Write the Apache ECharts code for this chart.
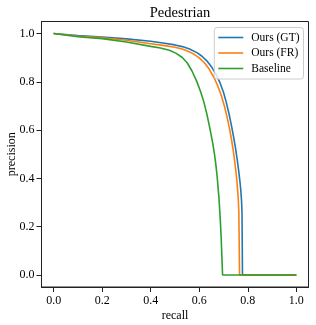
<!DOCTYPE html>
<html>
<head>
<meta charset="utf-8">
<script src="https://cdn.jsdelivr.net/npm/echarts@6/dist/echarts.min.js"></script>
<style>html,body{margin:0;padding:0;background:#fff}#c{width:316px;height:325px}</style>
</head>
<body>
<div id="c"></div>
<script>
const seriesNames = ['Ours (GT)', 'Ours (FR)', 'Baseline'];
const tickValues = [0, 0.2, 0.4, 0.6, 0.8, 1.0];

const gtRecall = [0, 0.005, 0.1, 0.2, 0.3, 0.4, 0.45, 0.5, 0.53, 0.56, 0.59, 0.61, 0.63, 0.65, 0.67, 0.685, 0.70, 0.711, 0.722, 0.732, 0.741, 0.749, 0.756, 0.762, 0.767, 0.771, 0.774, 0.776, 0.778, 1.0];
const gtPrec   = [1.0, 0.996, 0.992, 0.986, 0.978, 0.968, 0.961, 0.953, 0.946, 0.936, 0.921, 0.907, 0.888, 0.863, 0.830, 0.797, 0.756, 0.716, 0.670, 0.622, 0.574, 0.527, 0.480, 0.434, 0.392, 0.352, 0.31, 0.26, 0, 0];

const frRecall = [0, 0.005, 0.1, 0.2, 0.3, 0.4, 0.45, 0.5, 0.533, 0.56, 0.58, 0.60, 0.62, 0.64, 0.66, 0.677, 0.691, 0.704, 0.715, 0.725, 0.733, 0.740, 0.746, 0.751, 0.755, 0.758, 0.761, 0.763, 0.766, 1.0];
const frPrec   = [1.0, 0.995, 0.989, 0.983, 0.972, 0.958, 0.951, 0.943, 0.935, 0.924, 0.913, 0.899, 0.880, 0.854, 0.819, 0.781, 0.742, 0.698, 0.652, 0.604, 0.560, 0.515, 0.470, 0.428, 0.390, 0.352, 0.31, 0.26, 0, 0];

const blRecall = [0, 0.005, 0.1, 0.2, 0.3, 0.4, 0.44, 0.477, 0.505, 0.53, 0.55, 0.57, 0.59, 0.606, 0.619, 0.630, 0.639, 0.647, 0.655, 0.662, 0.668, 0.673, 0.677, 0.681, 0.684, 0.687, 0.690, 0.693, 0.696, 1.0];
const blPrec   = [1.0, 0.994, 0.987, 0.979, 0.965, 0.947, 0.940, 0.931, 0.918, 0.901, 0.879, 0.845, 0.801, 0.758, 0.716, 0.672, 0.630, 0.590, 0.548, 0.505, 0.460, 0.414, 0.368, 0.320, 0.272, 0.22, 0.16, 0.08, 0, 0];

const colors = ['#1f77b4', '#ff7f0e', '#2ca02c'];
const font = "'Liberation Serif', 'Times New Roman', serif";

function pairs(xs, ys) { return xs.map((x, i) => [x, ys[i]]); }
const allData = [pairs(gtRecall, gtPrec), pairs(frRecall, frPrec), pairs(blRecall, blPrec)];

const chart = echarts.init(document.getElementById('c'), null, {renderer: 'canvas'});
const axisCommon = {
  type: 'value', min: -0.05, max: 1.05,
  axisLine: {show: true, onZero: false, lineStyle: {color: '#222', width: 1}},
  axisTick: {show: true, inside: false, length: 5, lineStyle: {color: '#222', width: 1}, customValues: tickValues},
  axisLabel: {show: true, color: '#000', fontFamily: font, fontSize: 12, customValues: tickValues, formatter: v => v.toFixed(1)},
  splitLine: {show: false},
  nameLocation: 'middle',
  nameMoveOverlap: false,
  nameTextStyle: {color: '#000', fontFamily: font, fontSize: 12}
};
chart.setOption({
  animation: false,
  color: colors,
  title: {text: 'Pedestrian', left: 175, top: 1, textAlign: 'center',
          textStyle: {fontFamily: font, fontSize: 14.5, fontWeight: 'normal', color: '#000'}},
  grid: {left: 41.5, top: 21.5, right: 7.5, bottom: 38, show: true, borderColor: '#222', borderWidth: 1,
         containLabel: false, outerBoundsMode: 'none'},
  xAxis: Object.assign({}, axisCommon, {name: 'recall', nameGap: 23, axisLabel: Object.assign({}, axisCommon.axisLabel, {margin: 8})}),
  yAxis: Object.assign({}, axisCommon, {name: 'precision', nameGap: 23.5, axisLabel: Object.assign({}, axisCommon.axisLabel, {margin: 7})}),
  legend: {
    orient: 'vertical', right: 12.5, top: 27.5,
    data: seriesNames, icon: 'rect', itemWidth: 25, itemHeight: 1.6, itemGap: 1.5,
    padding: [3, 4, 3.5, 4],
    backgroundColor: 'rgba(255,255,255,0.8)', borderColor: '#ccc', borderWidth: 1, borderRadius: 3,
    textStyle: {fontFamily: font, fontSize: 11.5, color: '#000', lineHeight: 14, padding: [0, 0, 0, 3]}
  },
  series: seriesNames.map((n, i) => ({
    name: n, type: 'line', data: allData[i], showSymbol: false, symbol: 'none',
    lineStyle: {width: 1.6, color: colors[i]}, z: 2 + i
  }))
});
</script>
</body>
</html>
